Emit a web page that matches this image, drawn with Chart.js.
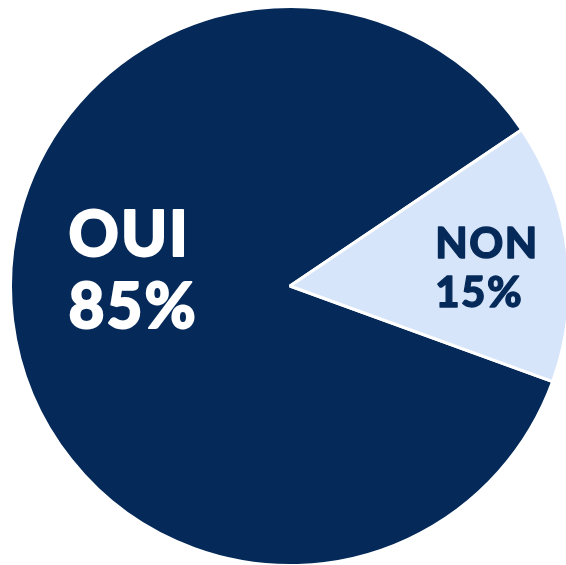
<!DOCTYPE html>
<html>
<head>
<meta charset="utf-8">
<script src="https://cdn.jsdelivr.net/npm/chart.js@4"></script>
<style>
  html, body { margin: 0; padding: 0; background: #ffffff; overflow: hidden; }
  #wrap { width: 580px; height: 565px; }
</style>
</head>
<body>
<div id="wrap"><canvas id="c" width="580" height="565"></canvas></div>
<script>
// ---- data ----
const categories = ["OUI", "NON"];
const values = [85, 15];
const valueLabels = ["85%", "15%"];

// ---- styles ----
const sliceColors = ["#052a59", "#d7e5fa"];
const labelColors = ["#ffffff", "#052a59"];
const labelFontSizes = [62, 42];
const labelSpacing = ["2px", "1.5px"];
// label block anchors in polar form relative to pie centre (deg, fraction of radius)
const labelAnchors = [{ angle: 185.9, dist: 0.564 }, { angle: -5.5, dist: 0.708 }];

const labelPlugin = {
  id: "sliceLabels",
  afterDatasetsDraw(chart) {
    const ctx = chart.ctx;
    const meta = chart.getDatasetMeta(0);
    meta.data.forEach((arc, i) => {
      const p = arc.getProps(["x", "y", "outerRadius"], true);
      const a = labelAnchors[i];
      const rad = a.angle * Math.PI / 180;
      const cx = p.x + Math.cos(rad) * a.dist * p.outerRadius;
      const cy = p.y + Math.sin(rad) * a.dist * p.outerRadius;
      const size = labelFontSizes[i];
      const lh = size * 1.17;
      const lines = [categories[i], valueLabels[i]];
      ctx.save();
      ctx.font = "900 " + size + "px Lato, 'DejaVu Sans', sans-serif";
      try { ctx.letterSpacing = labelSpacing[i]; } catch (e) {}
      ctx.fillStyle = labelColors[i];
      ctx.strokeStyle = labelColors[i];
      ctx.lineJoin = "round";
      ctx.lineWidth = size * 0.03;
      ctx.textAlign = "left";
      ctx.textBaseline = "alphabetic";
      const w = Math.max(...lines.map(l => ctx.measureText(l).width));
      const capH = size * 0.72;
      const blockH = lh * (lines.length - 1) + capH;
      const left = cx - w / 2;
      let base = cy - blockH / 2 + capH;
      lines.forEach(l => { ctx.fillText(l, left, base); ctx.strokeText(l, left, base); base += lh; });
      ctx.restore();
    });
  }
};

new Chart(document.getElementById("c"), {
  type: "pie",
  data: {
    labels: categories,
    datasets: [{
      data: values,
      backgroundColor: sliceColors,
      borderColor: "#ffffff",
      borderWidth: 3,
      hoverOffset: 0
    }]
  },
  options: {
    responsive: false,
    animation: false,
    rotation: 110,
    radius: 279.5,
    layout: { padding: { top: 7, bottom: 0, left: 0, right: 0 } },
    plugins: { legend: { display: false }, tooltip: { enabled: false } }
  },
  plugins: [labelPlugin]
});
</script>
</body>
</html>
